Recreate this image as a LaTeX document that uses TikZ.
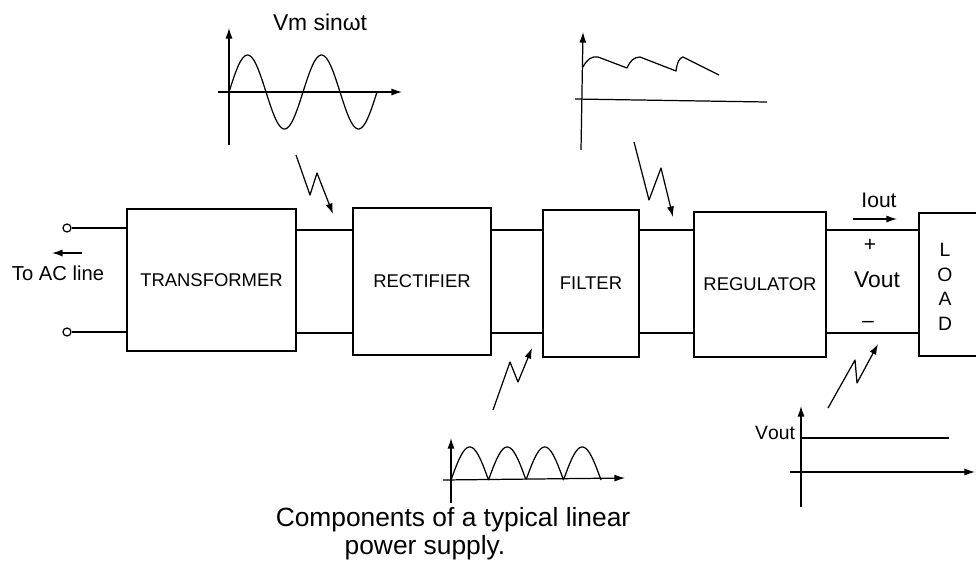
\documentclass[tikz,border=0pt]{standalone}
\usepackage{fontspec}
\setmainfont{Liberation Sans}
\usetikzlibrary{arrows.meta}
\begin{document}
\begin{tikzpicture}[x=0.02cm,y=-0.02cm,
  ln/.style={line width=0.7pt},
  blk/.style={draw,line width=0.7pt,inner sep=0pt,font=\fontsize{10.5}{12}\selectfont},
  term/.style={draw,circle,line width=0.7pt,inner sep=0pt,minimum size=0.16cm},
  arr/.style={line width=0.7pt,-{Latex[length=6pt,width=4pt]}},
  lbl/.style={inner sep=0pt,font=\fontsize{12}{14}\selectfont},
  captxt/.style={inner sep=0pt,font=\fontsize{15}{17}\selectfont}]
\useasboundingbox (0,0) rectangle (976,565);
% blocks
\node[blk,minimum width=3.38cm,minimum height=2.84cm] (trans) at (211.5,280) {TRANSFORMER};
\node[blk,minimum width=2.76cm,minimum height=2.94cm] (rect) at (422,281.5) {RECTIFIER};
\node[blk,minimum width=1.92cm,minimum height=2.94cm] (filt) at (591,283.5) {FILTER};
\node[blk,minimum width=2.64cm,minimum height=2.90cm] (reg) at (760,284.5) {REGULATOR};
\node[blk,minimum width=1.82cm,minimum height=2.86cm] (load) at (964.5,284.5) {};
\node[inner sep=0pt,align=center,font=\fontsize{11}{14}\selectfont] (loadtxt) at (945,287) {L\\O\\A\\D};
% connecting lines
\coordinate (ytop) at (0,230);
\coordinate (ybot) at (0,333);
\node[term] (t1) at (67,228) {};
\node[term] (t2) at (67,332) {};
\draw[ln] (t1.east) -- (trans.west |- t1);
\draw[ln] (t2.east) -- (trans.west |- t2);
\foreach \a/\b in {trans/rect,rect/filt,filt/reg,reg/load}{
  \draw[ln] (\a.east |- ytop) -- (\b.west |- ytop);
  \draw[ln] (\a.east |- ybot) -- (\b.west |- ybot);
}
% AC line
\coordinate (acA) at (82,253);
\coordinate (acB) at (52,253);
\draw[arr] (acA) -- (acB);
\node[lbl,font=\fontsize{11.5}{14}\selectfont] (ac) at (58,273) {To AC line};
% output labels
\coordinate (ioA) at (853,219);
\coordinate (ioB) at (897,219);
\draw[arr] (ioA) -- (ioB);
\node[lbl] (iout) at (879,200) {Iout};
\node[lbl] (plus) at (870,245) {+};
\node[lbl,font=\fontsize{13}{15}\selectfont] (vout) at (877,280) {Vout};
\node[lbl] (minus) at (868,324) {\textendash};
% sine graph
\draw[arr] (229,145) -- (229,28);
\draw[arr] (218,92) -- (402,92);
\draw[ln] plot[domain=0:148,samples=120] ({229+\x},{92-37*sin(\x/74*360)});
\node[lbl,font=\fontsize{13}{15}\selectfont] (vm) at (320,22) {Vm sinωt};
% filter graph
\draw[arr] (581,150) -- (583,32);
\draw[ln] (575,99) -- (767,102);
\draw[ln,line join=round] (583,67) .. controls (587,59) and (592,56) .. (598,57) -- (627,68)
  .. controls (630,61) and (634,57) .. (640,57) -- (676,71)
  .. controls (677,63) and (679,58) .. (683,57) -- (719,75);
% rectified graph
\draw[arr] (451,503) -- (451,438);
\draw[arr] (443,480) -- (625,478);
\draw[ln] plot[domain=0:150,samples=160] ({451+\x},{480-33*abs(sin(\x/37.5*180))});
% output graph
\draw[arr] (801,507) -- (801,406);
\draw[arr] (790,472) -- (975,472);
\draw[ln] (801,438) -- (949,438);
\node[lbl,font=\fontsize{11}{13}\selectfont] (vlev) at (775,433) {V\textsc{out}};
% lightning arrows
\draw[arr,line join=round] (296,155) -- (310,195) -- (317,173) -- (333,214);
\draw[arr,line join=round] (634,142) -- (649,200) -- (661,168) -- (673,217);
\draw[arr,line join=round] (493,410) -- (510,362) -- (518,382) -- (532,348);
\draw[arr,line join=round] (828,408) -- (855,360) -- (857,383) -- (878,344);
% caption
\node[captxt] (cap1) at (453,520) {Components of a typical linear};
\node[captxt] (cap2) at (425,548) {power supply.};
\end{tikzpicture}
\end{document}
